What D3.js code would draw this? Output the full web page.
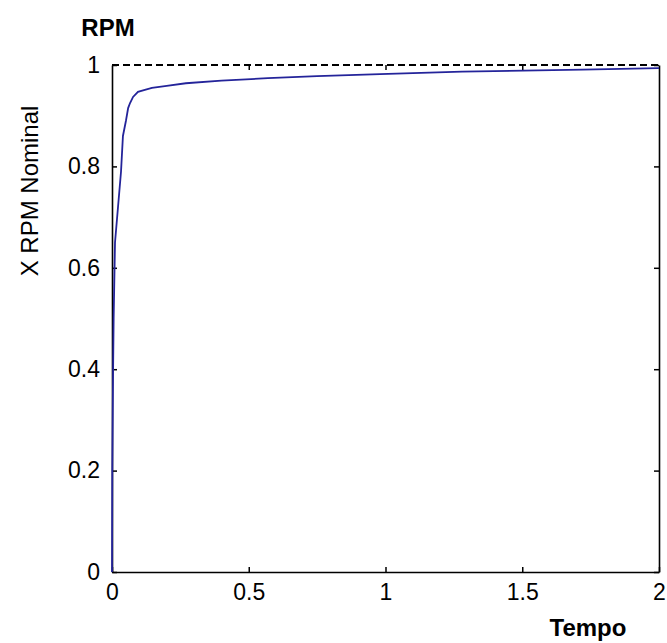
<!DOCTYPE html>
<html>
<head>
<meta charset="utf-8">
<script src="https://cdn.jsdelivr.net/npm/d3@7/dist/d3.min.js"></script>
<style>
  html, body { margin: 0; padding: 0; background: #fff; }
  svg { display: block; }
  text { font-family: "Liberation Sans", Arial, sans-serif; }
</style>
</head>
<body>
<svg id="chart" width="667" height="643"></svg>
<script>
// ---- data ----
const time = [0, 0.001, 0.004, 0.006, 0.011, 0.022, 0.033, 0.040, 0.051, 0.059, 0.066, 0.077, 0.095, 0.12, 0.146, 0.20, 0.27, 0.40, 0.57, 0.75, 0.98, 1.28, 1.72, 2.0];
const rpm  = [0, 0.20, 0.40, 0.50, 0.65, 0.72, 0.79, 0.86, 0.89, 0.915, 0.925, 0.937, 0.947, 0.951, 0.955, 0.959, 0.964, 0.969, 0.974, 0.978, 0.982, 0.987, 0.991, 0.994];
const reference = [1, 1];
const xTicks = [0, 0.5, 1, 1.5, 2];
const yTicks = [0, 0.2, 0.4, 0.6, 0.8, 1];
const xTickLabels = ["0", "0.5", "1", "1.5", "2"];
const yTickLabels = ["0", "0.2", "0.4", "0.6", "0.8", "1"];
const title = "RPM";
const xLabel = "Tempo";
const yLabel = "X RPM Nominal";

// ---- layout ----
const L = 112, R = 659, T = 65, B = 572;
const svg = d3.select("#chart");
const x = d3.scaleLinear().domain([0, 2]).range([L, R]);
const y = d3.scaleLinear().domain([0, 1]).range([B, T]);

const fs = 23;

// bottom axis (ticks pointing inward)
const gx = svg.append("g").attr("transform", `translate(0,${B})`)
  .call(d3.axisBottom(x).tickValues(xTicks).tickFormat((d, i) => xTickLabels[i])
    .tickSizeInner(-5).tickSizeOuter(0).tickPadding(12));
gx.selectAll("text").attr("font-size", fs).attr("fill", "#000").attr("font-family", "Liberation Sans, Arial, sans-serif");

// top axis ticks
const gt = svg.append("g").attr("transform", `translate(0,${T})`)
  .call(d3.axisTop(x).tickValues(xTicks).tickFormat("").tickSizeInner(-5).tickSizeOuter(0));
gt.select(".domain").remove();

// left axis
const gy = svg.append("g").attr("transform", `translate(${L},0)`)
  .call(d3.axisLeft(y).tickValues(yTicks).tickFormat((d, i) => yTickLabels[i])
    .tickSizeInner(-5).tickSizeOuter(0).tickPadding(12));
gy.selectAll("text").attr("font-size", fs).attr("fill", "#000").attr("font-family", "Liberation Sans, Arial, sans-serif");

// right axis ticks
const gr = svg.append("g").attr("transform", `translate(${R},0)`)
  .call(d3.axisRight(y).tickValues(yTicks).tickFormat("").tickSizeInner(-5).tickSizeOuter(0));

svg.selectAll(".domain").attr("stroke", "#000").attr("stroke-width", 1.6);
svg.selectAll(".tick line").attr("stroke", "#000").attr("stroke-width", 1.5);
gt.selectAll(".tick line").filter(d => d === 0 || d === 2).remove();

// reference dashed line at 1
svg.append("line")
  .attr("x1", x(0)).attr("x2", x(2))
  .attr("y1", y(reference[0])).attr("y2", y(reference[1]))
  .attr("stroke", "#000").attr("stroke-width", 1.5)
  .attr("shape-rendering", "crispEdges")
  .attr("stroke-dasharray", "7,4");

// curve
const pts = time.map((t, i) => [t, rpm[i]]);
svg.append("path")
  .datum(pts)
  .attr("fill", "none")
  .attr("stroke", "#24249a")
  .attr("stroke-width", 1.8)
  .attr("d", d3.line().x(d => x(d[0])).y(d => y(d[1])));

// labels
svg.append("text").attr("x", 108).attr("y", 36).attr("text-anchor", "middle")
  .attr("font-size", 24).attr("font-weight", "bold").text(title);
svg.append("text").attr("x", 588).attr("y", 636).attr("text-anchor", "middle")
  .attr("font-size", 24).attr("font-weight", "bold").text(xLabel);
svg.append("text").attr("transform", "translate(38,191) rotate(-90)")
  .attr("text-anchor", "middle").attr("font-size", 24).text(yLabel);
</script>
</body>
</html>
